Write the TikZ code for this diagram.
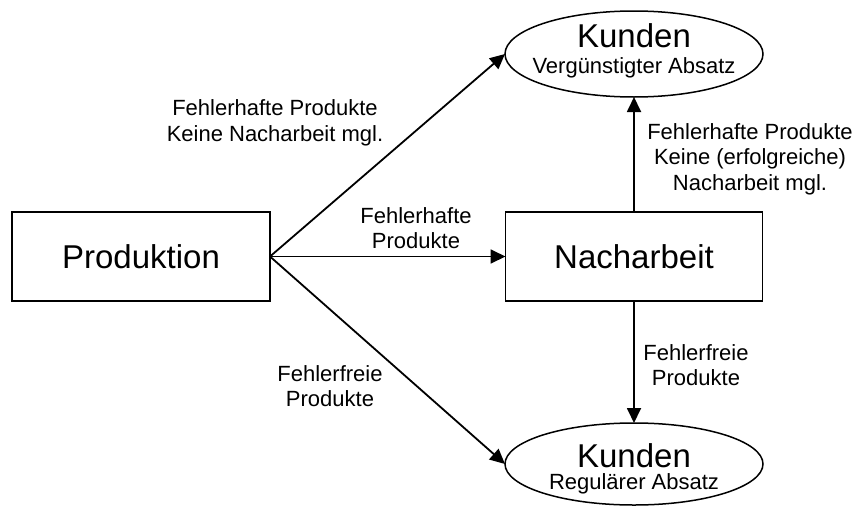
\documentclass[tikz,border=0pt]{standalone}
\usepackage{fontspec}
\setmainfont{Liberation Sans}
\usetikzlibrary{shapes.geometric,arrows.meta}
\begin{document}
\begin{tikzpicture}[x=1pt,y=-1pt,
  box/.style={draw, line width=1.8pt, inner sep=0pt, outer sep=0pt},
  oval/.style={draw, ellipse, line width=1.5pt, inner sep=0pt, outer sep=0pt},
  big/.style={font=\fontsize{33}{38}\selectfont, inner sep=0pt},
  small/.style={font=\fontsize{22}{25.5}\selectfont, align=center, inner sep=0pt},
  arr/.style={line width=1.8pt, -{Triangle[length=15pt,width=14pt]}}]
\useasboundingbox (0,0) rectangle (856,506);
% boxes
\node[box, minimum width=258pt, minimum height=89pt] (prod) at (141,256.5) {};
\node[big] (prodt) at (prod) {Produktion};
\node[box, minimum width=257pt, minimum height=89pt] (nach) at (634,256.5) {};
\node[big] (nacht) at (nach) {Nacharbeit};
% ellipses
\node[oval, minimum width=258pt, minimum height=86pt] (kt) at (634,54) {};
\node[big, anchor=base] (kt1) at (634,47) {Kunden};
\node[small, anchor=base] (kt2) at (634,73) {Vergünstigter Absatz};
\node[oval, minimum width=258pt, minimum height=82pt] (kb) at (634,464) {};
\node[big, anchor=base] (kb1) at (634,467) {Kunden};
\node[small, anchor=base] (kb2) at (634,489) {Regulärer Absatz};
% connectors
\draw[arr] (prod.east) -- (kt.west);
\draw[arr] (prod.east) -- (nach.west);
\draw[arr] (prod.east) -- (kb.west);
\draw[arr] (nach.north) -- (kt.south);
\draw[arr] (nach.south) -- (kb.north);
% labels
\node[small] (l1) at (275,123) {Fehlerhafte Produkte\\Keine Nacharbeit mgl.};
\node[small] (l2) at (416,228) {Fehlerhafte\\Produkte};
\node[small] (l3) at (330,386) {Fehlerfreie\\Produkte};
\node[small] (l4) at (750,159) {Fehlerhafte Produkte\\Keine (erfolgreiche)\\Nacharbeit mgl.};
\node[small] (l5) at (696,365) {Fehlerfreie\\Produkte};
\end{tikzpicture}
\end{document}
